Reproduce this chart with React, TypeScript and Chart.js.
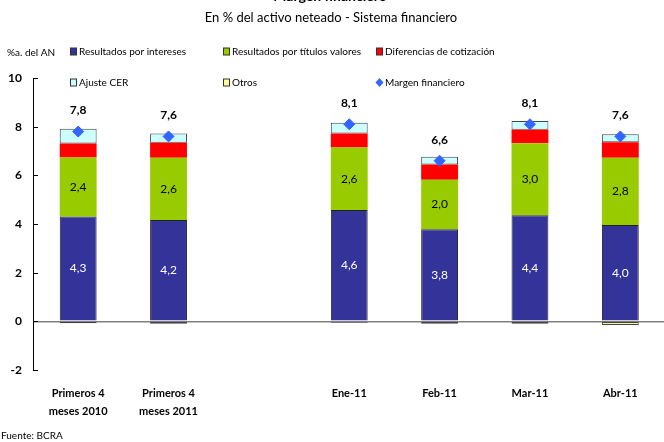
import React, { useEffect, useRef } from 'react';
import { Chart, registerables } from 'chart.js';
Chart.register(...registerables);

const categories: (string | string[])[] = [
  ['Primeros 4', 'meses 2010'],
  ['Primeros 4', 'meses 2011'],
  '',
  'Ene-11',
  'Feb-11',
  'Mar-11',
  'Abr-11',
];
const intereses = [4.31, 4.16, null, 4.58, 3.78, 4.36, 3.96];
const titulos = [2.42, 2.56, null, 2.56, 2.04, 2.96, 2.76];
const diferencias = [0.58, 0.62, null, 0.58, 0.63, 0.55, 0.64];
const ajusteCER = [0.6, 0.38, null, 0.44, 0.31, 0.36, 0.33];
const otros = [-0.08, -0.1, null, -0.06, -0.1, -0.1, -0.15];
const margen = [7.8, 7.6, null, 8.1, 6.6, 8.1, 7.6];
const yMin = -2;
const yMax = 10;
const yStep = 2;

const FONT = 'Lato';
const fmt = (v: number) => v.toFixed(1).replace('.', ',');

const legendItems = [
  { label: 'Resultados por intereses', color: '#333399', shape: 'box' },
  { label: 'Resultados por títulos valores', color: '#99CC00', shape: 'box' },
  { label: 'Diferencias de cotización', color: '#FF0000', shape: 'box' },
  { label: 'Ajuste CER', color: '#CCFFFF', shape: 'box' },
  { label: 'Otros', color: '#FFFF99', shape: 'box' },
  { label: 'Margen financiero', color: '#3366FF', shape: 'diamond' },
];

const decorPlugin = {
  id: 'decor',
  afterDatasetsDraw(chart: any) {
    const ctx = chart.ctx;
    const area = chart.chartArea;
    const ys = chart.scales.y;
    ctx.save();
    ctx.strokeStyle = '#000';
    ctx.lineWidth = 1;
    for (let v = yMin; v <= yMax; v += yStep) {
      const py = Math.round(ys.getPixelForValue(v)) + 0.5;
      ctx.beginPath();
      ctx.moveTo(area.left, py);
      ctx.lineTo(area.left + 5, py);
      ctx.stroke();
    }
    ctx.textAlign = 'center';
    ctx.textBaseline = 'middle';
    ctx.font = `12px ${FONT}`;
    const m0 = chart.getDatasetMeta(0);
    const m1 = chart.getDatasetMeta(1);
    intereses.forEach((v, i) => {
      if (v == null) return;
      const el = m0.data[i];
      ctx.fillStyle = '#ffffff';
      ctx.fillText(fmt(v), el.x, (el.y + el.base) / 2);
    });
    titulos.forEach((v, i) => {
      if (v == null) return;
      const el = m1.data[i];
      ctx.fillStyle = '#000000';
      ctx.fillText(fmt(v), el.x, (el.y + el.base) / 2);
    });
    const m5 = chart.getDatasetMeta(5);
    ctx.font = `bold 12px ${FONT}`;
    ctx.fillStyle = '#000';
    margen.forEach((v, i) => {
      if (v == null) return;
      const el = m5.data[i];
      ctx.fillText(fmt(v), el.x, el.y - 21);
    });
    ctx.restore();
  },
  afterDraw(chart: any) {
    const ctx = chart.ctx;
    ctx.save();
    ctx.fillStyle = '#000';
    ctx.textAlign = 'center';
    ctx.textBaseline = 'alphabetic';
    ctx.font = `bold 14px ${FONT}`;
    ctx.fillText('Margen financiero', 330, 1);
    ctx.font = `13px ${FONT}`;
    ctx.textBaseline = 'middle';
    ctx.fillText('En % del activo neteado - Sistema financiero', 331, 18);
    ctx.textAlign = 'left';
    ctx.font = `10px ${FONT}`;
    ctx.fillText('%a. del AN', 7, 53);
    const colX = [70, 223, 376];
    const rowY = [51.5, 82.5];
    ctx.font = `10px ${FONT}`;
    legendItems.forEach((it, k) => {
      const x = colX[k % 3];
      const y = rowY[Math.floor(k / 3)];
      if (it.shape === 'box') {
        ctx.fillStyle = it.color;
        ctx.fillRect(x, y - 3.5, 6, 7);
        ctx.strokeStyle = '#333';
        ctx.lineWidth = 1;
        ctx.strokeRect(x + 0.5, y - 3.5, 6, 7);
      } else {
        ctx.fillStyle = it.color;
        ctx.beginPath();
        ctx.moveTo(x + 3.5, y - 4.5);
        ctx.lineTo(x + 7.5, y);
        ctx.lineTo(x + 3.5, y + 4.5);
        ctx.lineTo(x - 0.5, y);
        ctx.closePath();
        ctx.fill();
      }
      ctx.fillStyle = '#000';
      ctx.fillText(it.label, x + 9, y);
    });
    ctx.font = `10px ${FONT}`;
    ctx.fillText('Fuente: BCRA', 1, 436);
    ctx.restore();
  },
};

export default function App() {
  const ref = useRef<HTMLCanvasElement | null>(null);
  useEffect(() => {
    if (!ref.current) return;
    Chart.defaults.font.family = FONT;
    const barCommon = { barPercentage: 0.408, categoryPercentage: 1, order: 1, stack: 'a' };
    const chart = new Chart(ref.current, {
      type: 'bar',
      data: {
        labels: categories as any,
        datasets: [
          { ...barCommon, label: 'Resultados por intereses', data: intereses as any, backgroundColor: '#333399', borderColor: '#222', borderWidth: 1 },
          { ...barCommon, label: 'Resultados por títulos valores', data: titulos as any, backgroundColor: '#99CC00', borderWidth: 0 },
          { ...barCommon, label: 'Diferencias de cotización', data: diferencias as any, backgroundColor: '#FF0000', borderWidth: 0 },
          { ...barCommon, label: 'Ajuste CER', data: ajusteCER as any, backgroundColor: '#CCFFFF', borderColor: '#444', borderWidth: 1, borderSkipped: false },
          { ...barCommon, label: 'Otros', data: otros as any, backgroundColor: '#FFFF99', borderColor: '#444', borderWidth: 1, borderSkipped: false },
          {
            type: 'line' as any,
            label: 'Margen financiero',
            data: margen as any,
            showLine: false,
            pointStyle: 'rectRot',
            pointRadius: 5.5,
            pointBackgroundColor: '#3366FF',
            pointBorderColor: '#3366FF',
            borderColor: '#3366FF',
            backgroundColor: '#3366FF',
            order: 0,
            stack: 'm',
          } as any,
        ],
      },
      options: {
        responsive: false,
        devicePixelRatio: 1,
        animation: false,
        layout: { padding: { top: 78, left: 0, right: 4, bottom: 0 } },
        plugins: { legend: { display: false }, title: { display: false }, tooltip: { enabled: false } },
        scales: {
          x: {
            stacked: true,
            grid: { display: false, drawTicks: false },
            border: { display: false },
            ticks: {
              autoSkip: false,
              maxRotation: 0,
              color: '#000',
              padding: 15,
              font: { family: FONT, size: 11, weight: 'bold', lineHeight: 1.6 },
            },
            afterFit: (s: any) => { s.height = 72; },
          },
          y: {
            stacked: true,
            min: yMin,
            max: yMax,
            ticks: {
              stepSize: yStep,
              color: '#000',
              padding: 11,
              font: { family: FONT, size: 12, weight: 'bold' },
            },
            grid: {
              drawTicks: false,
              lineWidth: 1.5,
              color: (c: any) => (c.tick && c.tick.value === 0 ? '#808080' : 'rgba(0,0,0,0)'),
            },
            border: { display: true, color: '#000', width: 1 },
            afterFit: (s: any) => { s.width = 33; },
          },
        },
      } as any,
      plugins: [decorPlugin],
    });
    return () => chart.destroy();
  }, []);
  return (
    <div style={{ position: 'fixed', left: 0, top: 0, width: 664, height: 442, overflow: 'hidden', background: '#fff' }}>
      <canvas ref={ref} width={672} height={442} style={{ display: 'block' }} />
    </div>
  );
}
